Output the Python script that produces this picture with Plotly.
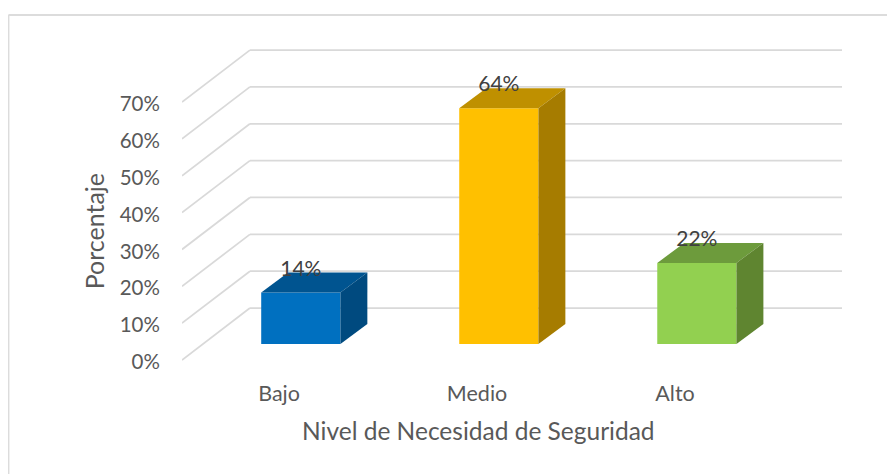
import plotly.graph_objects as go

categories = ['Bajo', 'Medio', 'Alto']
values = [14, 64, 22]
value_labels = ['14%', '64%', '22%']
front_colors = ['#0070C0', '#FFC000', '#92D050']
top_colors = ['#005490', '#BF9000', '#6D9B3C']
side_colors = ['#004A7F', '#A67C00', '#5F8530']
y_ticks = [0, 10, 20, 30, 40, 50, 60, 70]

# page body keeps its 8px margin, so the figure is 8px smaller each way
width = 887
height = 466

# the fake 3D depth, in axis units
wall_dx = 0.343
wall_dy = 14.1
bar_dx = 0.136
bar_dy = 5.43
bar_shift = 0.11
bar_width = 0.4
bar_base = 4.88
grid_lift = 0.54  # tick labels sit slightly below their gridline

fig = go.Figure()

# front faces
fig.add_trace(go.Bar(
    x=[i + bar_shift for i in range(len(categories))],
    y=values,
    base=bar_base,
    width=bar_width,
    marker=dict(color=front_colors, line=dict(width=0)),
    showlegend=False,
    hoverinfo='skip'
))

for i, val in enumerate(values):
    left = i + bar_shift - bar_width / 2
    right = i + bar_shift + bar_width / 2
    top = val + bar_base
    # top face
    fig.add_trace(go.Scatter(
        x=[left, right, right + bar_dx, left + bar_dx, left],
        y=[top, top, top + bar_dy, top + bar_dy, top],
        fill='toself', fillcolor=top_colors[i], mode='lines',
        line=dict(width=0), showlegend=False, hoverinfo='skip'
    ))
    # side face
    fig.add_trace(go.Scatter(
        x=[right, right + bar_dx, right + bar_dx, right, right],
        y=[bar_base, bar_base + bar_dy, top + bar_dy, top, bar_base],
        fill='toself', fillcolor=side_colors[i], mode='lines',
        line=dict(width=0), showlegend=False, hoverinfo='skip'
    ))

# data labels sit over the top face
fig.add_trace(go.Scatter(
    x=[i + bar_shift for i in range(len(categories))],
    y=[val + bar_base + 6 for val in values],
    text=value_labels,
    mode='text',
    textfont=dict(size=21, color='#404040'),
    showlegend=False,
    hoverinfo='skip'
))

x_left = -0.49
x_right = 2.843

# gridlines: floor diagonal plus back wall
grid = []
for tick in y_ticks:
    low = tick + grid_lift
    grid.append(dict(type='line', x0=x_left, y0=low, x1=x_left + wall_dx, y1=low + wall_dy))
    grid.append(dict(type='line', x0=x_left + wall_dx, y0=low + wall_dy, x1=x_right, y1=low + wall_dy))
for g in grid:
    g.update(xref='x', yref='y', layer='below', line=dict(color='#D9D9D9', width=1.75))

# chart frame, only left and top edges show in the crop
frame = [
    dict(type='line', xref='paper', yref='paper', x0=-0.263, y0=1.084, x1=1.08, y1=1.084,
         line=dict(color='#DCDCDC', width=2)),
    dict(type='line', xref='paper', yref='paper', x0=-0.263, y0=1.084, x1=-0.263, y1=-0.35,
         line=dict(color='#DCDCDC', width=2)),
]

# axis titles are off-centre from the plot area, so they go in as annotations
titles = [
    dict(text='Nivel de Necesidad de Seguridad', xref='paper', yref='paper', x=0.4485, y=-0.2125,
         xanchor='center', yanchor='middle', showarrow=False, font=dict(size=24.5)),
    dict(text='Porcentaje', xref='paper', yref='paper', x=-0.133, y=0.409, textangle=-90,
         xanchor='center', yanchor='middle', showarrow=False, font=dict(size=25)),
]

fig.update_layout(
    width=width,
    height=height,
    margin=dict(l=174, r=53, t=34, b=112),
    paper_bgcolor='white',
    plot_bgcolor='white',
    font=dict(family='Lato', color='#595959'),
    shapes=grid + frame,
    annotations=titles,
    xaxis=dict(
        range=[x_left, x_right],
        tickmode='array',
        tickvals=list(range(len(categories))),
        ticktext=categories,
        tickfont=dict(size=21.5),
        ticks='outside',
        ticklen=12,
        tickcolor='rgba(0,0,0,0)',
        showgrid=False,
        zeroline=False,
        showline=False,
    ),
    yaxis=dict(
        range=[0, 86.83],
        tickmode='array',
        tickvals=y_ticks,
        ticktext=[f'{t}%' for t in y_ticks],
        tickfont=dict(size=20.5),
        ticks='outside',
        ticklen=17,
        tickcolor='rgba(0,0,0,0)',
        showgrid=False,
        zeroline=False,
        showline=False,
    ),
)

fig.write_html("out.html")
